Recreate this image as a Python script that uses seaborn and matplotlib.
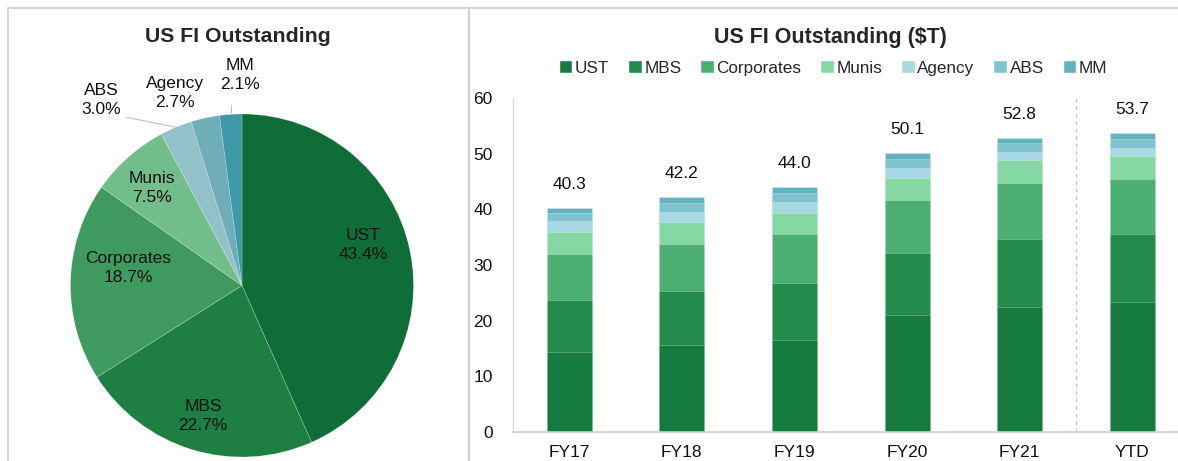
import matplotlib
matplotlib.use("Agg")
import matplotlib.pyplot as plt
from matplotlib.patches import Patch
from matplotlib.lines import Line2D
import numpy as np
import pandas as pd
import seaborn as sns

# data
years = ["FY17", "FY18", "FY19", "FY20", "FY21", "YTD"]
sectors = ["UST", "MBS", "Corporates", "Munis", "Agency", "ABS", "MM"]
ust = [14.4, 15.6, 16.6, 21.0, 22.4, 23.3]
mbs = [9.3, 9.7, 10.2, 11.2, 12.3, 12.2]
corporates = [8.3, 8.4, 8.8, 9.5, 10.0, 10.0]
munis = [3.9, 4.0, 3.8, 4.0, 4.1, 4.0]
agency = [2.0, 1.9, 2.0, 1.8, 1.5, 1.6]
abs_ = [1.4, 1.6, 1.6, 1.6, 1.6, 1.6]
mm = [1.0, 1.0, 1.0, 1.0, 0.9, 1.0]
totals = [40.3, 42.2, 44.0, 50.1, 52.8, 53.7]

pie_labels = ["UST", "MBS", "Corporates", "Munis", "ABS", "Agency", "MM"]
pie_share = [43.4, 22.7, 18.7, 7.5, 3.0, 2.7, 2.1]

bar_colors = ["#157b3f", "#238b4b", "#4caf72", "#86d8a2", "#a6d9e2", "#7fc3cf", "#62b1be"]
pie_colors = ["#0f6e37", "#1f7f43", "#3f9a60", "#72be8b", "#93c1c9", "#6fadb8", "#3f98a8"]

sns.set_theme(style="white")
plt.rcParams["font.family"] = ["Liberation Sans", "DejaVu Sans"]

W, H = 1178, 461
fig = plt.figure(figsize=(W / 100, H / 100), dpi=100)

#########
#  pie  #
#########
cx, cy, R = 242, 285.5, 171.5
axp = fig.add_axes([0, 0, 470 / W, 411 / H])
axp.pie(pie_share, colors=pie_colors, startangle=90, counterclock=False,
        wedgeprops=dict(edgecolor=(1, 1, 1, 0.35), linewidth=0.4))
axp.set_aspect("auto")
axp.set_xlim((0 - cx) / R, (470 - cx) / R)
axp.set_ylim((cy - 461) / R, (cy - 50) / R)
axp.axis("off")

# label positions in radius units (relative to pie centre)
lab_pos = {"UST": (0.706, 0.236), "MBS": (-0.227, -0.761),
           "Corporates": (-0.665, 0.102), "Munis": (-0.525, 0.569),
           "ABS": (-0.822, 1.082), "Agency": (-0.391, 1.122),
           "MM": (-0.012, 1.227)}
for name, share in zip(pie_labels, pie_share):
    x, y = lab_pos[name]
    axp.text(x, y, f"{name}\n{share:.1f}%", ha="center", va="center",
             fontsize=12.5, linespacing=1.3, color="#111111")
# leader lines
axp.plot([-0.67, -0.39], [0.98, 0.924], color="#bfbfbf", lw=0.8, clip_on=False)
axp.plot([-0.066, -0.066], [1.052, 1.0], color="#bfbfbf", lw=0.8, clip_on=False)

fig.text(238 / W, 1 - 37 / H, "US FI Outstanding", ha="center", va="center",
         fontsize=15.3, fontweight="bold")

##################
#  stacked bars  #
##################
axb = fig.add_axes([512.7 / W, (H - 432) / H, 676 / W, 334 / H])
df = pd.DataFrame({"year": years, "UST": ust, "MBS": mbs, "Corporates": corporates,
                   "Munis": munis, "Agency": agency, "ABS": abs_, "MM": mm})
cum = df[sectors].cumsum(axis=1)
# draw tallest cumulative first so lower segments sit on top
for s, c in reversed(list(zip(sectors, bar_colors))):
    sns.barplot(x=df["year"], y=cum[s], color=c, width=0.4, ax=axb,
                edgecolor=(1, 1, 1, 0.3), linewidth=0.6, saturation=1)

for i, t in enumerate(totals):
    axb.annotate(f"{t:.1f}", (i, t), xytext=(0, 17), textcoords="offset points",
                 ha="center", va="center", fontsize=12.5, color="#111111")

axb.axvline(4.5, ymin=0, ymax=1.0, color="#c0c0c0", lw=0.9, ls=(0, (3, 3)))
axb.set_xlim(-0.5, 5.5)
axb.set_ylim(0, 60)
axb.set_yticks(np.arange(0, 61, 10))
axb.set_xlabel("")
axb.set_ylabel("")
axb.tick_params(axis="y", length=0, pad=14.5, labelsize=12.5, labelcolor="#111111")
axb.tick_params(axis="x", length=0, pad=9, labelsize=12.5, labelcolor="#111111")
sns.despine(ax=axb)
axb.spines["left"].set_color("#d9d9d9")
axb.spines["bottom"].set_color("#cfcfcf")
axb.spines["left"].set_linewidth(1)
axb.spines["bottom"].set_linewidth(1.2)

handles = [Patch(facecolor=c, label=s) for s, c in zip(sectors, bar_colors)]
fig.legend(handles=handles, loc="center", bbox_to_anchor=(833 / W, 1 - 68 / H), ncol=7,
           frameon=False, fontsize=12.3, handlelength=0.8, handleheight=0.8,
           handletextpad=0.15, columnspacing=1.1, borderpad=0)

fig.text(830 / W, 1 - 37 / H, "US FI Outstanding ($T)", ha="center", va="center",
         fontsize=15.5, fontweight="bold")

# panel frame lines
fc = "#d0d0d0"
fig.add_artist(Line2D([8 / W, 8 / W], [0, 1 - 8 / H], color=fc, lw=1.2))
fig.add_artist(Line2D([8 / W, 1], [1 - 8 / H, 1 - 8 / H], color=fc, lw=1.2))
fig.add_artist(Line2D([468.5 / W, 468.5 / W], [0, 1 - 8 / H], color=fc, lw=1.6))

fig.savefig("out.png", dpi=100)
